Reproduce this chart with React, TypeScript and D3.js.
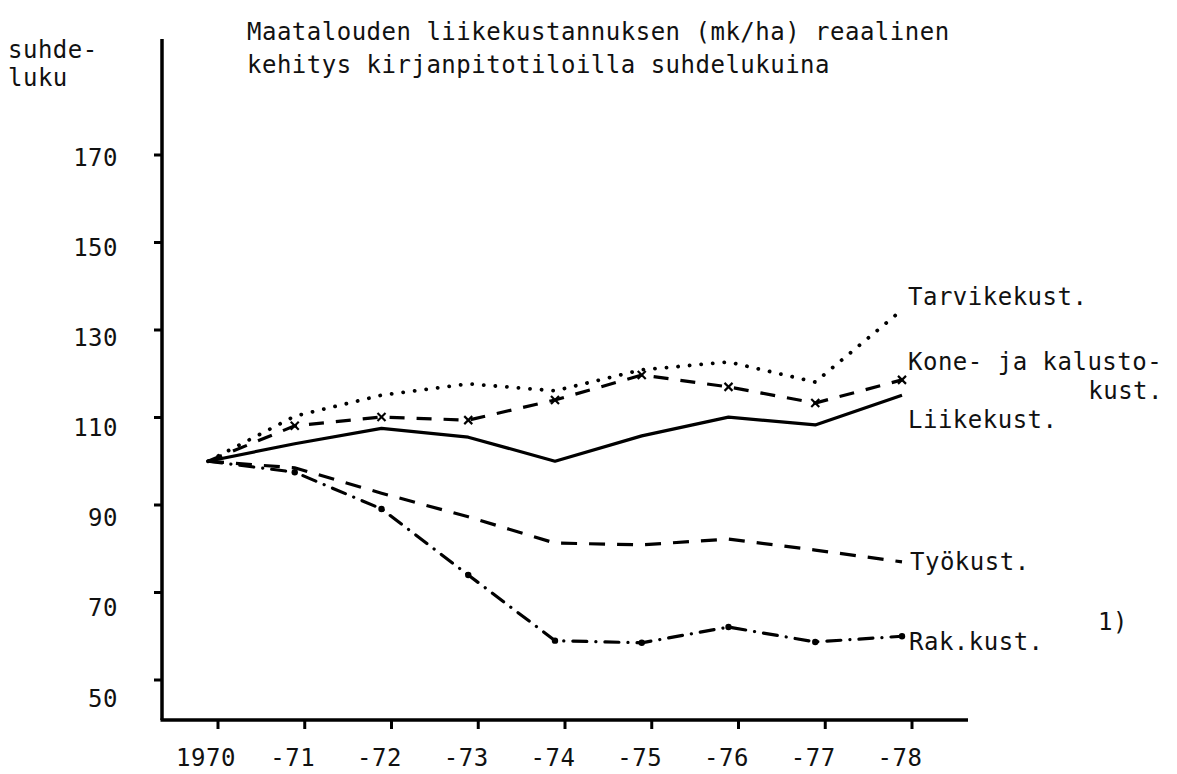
import React from "react";
import * as d3 from "d3";

const years = [1970, 1971, 1972, 1973, 1974, 1975, 1976, 1977, 1978];
const xTickLabels = ["1970", "-71", "-72", "-73", "-74", "-75", "-76", "-77", "-78"];
const yTickValues = [50, 70, 90, 110, 130, 150, 170];

const liikekust = [100, 104, 107.5, 105.5, 100, 105.8, 110.1, 108.3, 115.1];
const tarvikekust = [100, 110.3, 115.1, 117.7, 116.1, 120.9, 122.7, 118.1, 134.6];
const konekust = [100, 108.1, 110.1, 109.4, 114, 119.7, 117, 113.3, 118.6];
const tyokust = [100, 98.5, 92.7, 87.3, 81.3, 80.9, 82.2, 79.7, 77];
const rakkust = [100, 97.5, 89.1, 74, 59, 58.5, 62.1, 58.7, 60];

const FONT = "'DejaVu Sans Mono', monospace";

export default function App() {
  const W = 1177;
  const H = 774;
  const x = d3.scaleLinear().domain([1970, 1978]).range([208, 902]);
  const y = d3.scaleLinear().domain([50, 170]).range([680, 155]);
  const yLab = d3.scaleLinear().domain([50, 170]).range([698, 157.5]);
  const axisX = 162;
  const axisY = 720;
  const axisTop = y(196.5);
  const axisRight = 968;

  const line = d3
    .line<number>()
    .x((_, i) => x(years[i]))
    .y((d) => y(d));

  const fs = 24;
  const textStyle: React.CSSProperties = { fontFamily: FONT, fontSize: fs, letterSpacing: 0.5 };

  return (
    <svg
      width={W}
      height={H}
      viewBox={`0 0 ${W} ${H}`}
      style={{ position: "absolute", left: 0, top: 0, background: "#fff" }}
    >
      <rect width={W} height={H} fill="#fff" />
      {/* titles */}
      <g style={textStyle} fill="#111">
        <text x={247} y={40}>Maatalouden liikekustannuksen (mk/ha) reaalinen</text>
        <text x={247} y={73}>kehitys kirjanpitotiloilla suhdelukuina</text>
        <text x={8} y={58}>suhde-</text>
        <text x={8} y={86}>luku</text>
      </g>

      {/* axes */}
      <line x1={axisX} y1={axisTop} x2={axisX} y2={axisY} stroke="#000" strokeWidth={3.5} />
      <line x1={axisX - 1.5} y1={axisY} x2={axisRight} y2={axisY} stroke="#000" strokeWidth={3.5} />
      {yTickValues.map((v) => (
        <g key={v}>
          <line x1={axisX - 8} y1={y(v)} x2={axisX} y2={y(v)} stroke="#000" strokeWidth={3} />
          <text x={118} y={yLab(v) + 8.5} textAnchor="end" style={textStyle} fill="#111">
            {v}
          </text>
        </g>
      ))}
      {years.map((yr, i) => (
        <g key={yr}>
          <line x1={x(yr) + 10} y1={axisY} x2={x(yr) + 10} y2={axisY + 9} stroke="#000" strokeWidth={3} />
          <text x={x(yr) - 2} y={766} textAnchor="middle" style={textStyle} fill="#111">
            {xTickLabels[i]}
          </text>
        </g>
      ))}

      {/* series */}
      <path d={line(liikekust) || ""} fill="none" stroke="#000" strokeWidth={3.2} strokeLinejoin="round" />
      <path
        d={line(tarvikekust) || ""}
        fill="none"
        stroke="#000"
        strokeWidth={3.8}
        strokeDasharray="0.1 11.5"
        strokeLinecap="round"
      />
      <path d={line(konekust) || ""} fill="none" stroke="#000" strokeWidth={3.2} strokeDasharray="15 12" />
      <path d={line(tyokust) || ""} fill="none" stroke="#000" strokeWidth={3.2} strokeDasharray="16 12" />
      <path
        d={line(rakkust) || ""}
        fill="none"
        stroke="#000"
        strokeWidth={3.2}
        strokeDasharray="14 9 0.1 9"
        strokeLinecap="round"
      />
      {konekust.map((v, i) =>
        i === 0 ? null : (
          <g key={"k" + i} stroke="#000" strokeWidth={2.2}>
            <line x1={x(years[i]) - 4} y1={y(v) - 4} x2={x(years[i]) + 4} y2={y(v) + 4} />
            <line x1={x(years[i]) - 4} y1={y(v) + 4} x2={x(years[i]) + 4} y2={y(v) - 4} />
          </g>
        )
      )}
      {rakkust.map((v, i) =>
        i === 0 ? null : <circle key={"r" + i} cx={x(years[i])} cy={y(v)} r={3.2} fill="#000" />
      )}

      {/* series labels */}
      <g style={textStyle} fill="#111">
        <text x={908} y={305}>Tarvikekust.</text>
        <text x={908} y={370}>Kone- ja kalusto-</text>
        <text x={1163} y={399} textAnchor="end">kust.</text>
        <text x={908} y={428}>Liikekust.</text>
        <text x={910} y={570}>Työkust.</text>
        <text x={909} y={650}>Rak.kust.</text>
        <text x={1098} y={630}>1)</text>
      </g>
    </svg>
  );
}
